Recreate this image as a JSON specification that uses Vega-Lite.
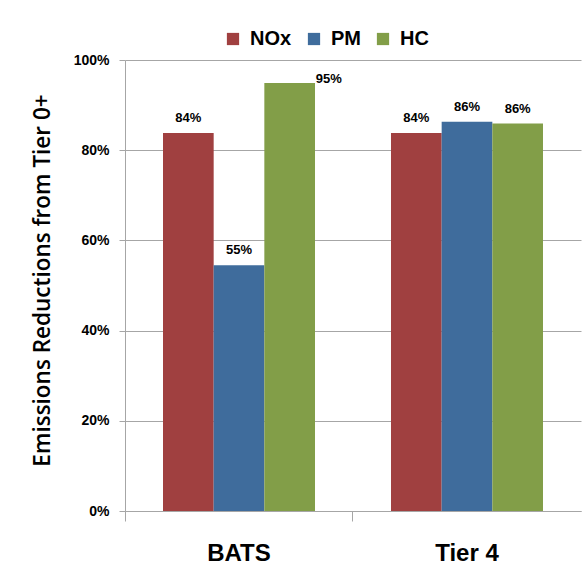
{
  "$schema": "https://vega.github.io/schema/vega-lite/v6.json",
  "autosize": "none",
  "width": 456,
  "height": 451,
  "padding": {"left": 125, "top": 60, "right": 1, "bottom": 57},
  "background": "white",
  "config": {
    "font": "Liberation Sans",
    "view": {"stroke": null}
  },
  "data": {
    "values": [
      {"group": "BATS", "pollutant": "NOx", "value": 0.838},
      {"group": "BATS", "pollutant": "PM", "value": 0.545},
      {"group": "BATS", "pollutant": "HC", "value": 0.949},
      {"group": "Tier 4", "pollutant": "NOx", "value": 0.838},
      {"group": "Tier 4", "pollutant": "PM", "value": 0.863},
      {"group": "Tier 4", "pollutant": "HC", "value": 0.859}
    ]
  },
  "encoding": {
    "x": {
      "field": "group",
      "type": "nominal",
      "sort": ["BATS", "Tier 4"],
      "scale": {"paddingInner": 0.3333, "paddingOuter": 0.1667},
      "axis": {
        "title": null,
        "labelAngle": 0,
        "labelFontSize": 24,
        "labelFontWeight": "bold",
        "labelColor": "#000000",
        "labelPadding": 20,
        "tickSize": 10,
        "tickColor": "#A6A6A6",
        "domainColor": "#A6A6A6",
        "bandPosition": -0.25,
        "ticks": true
      }
    },
    "xOffset": {
      "field": "pollutant",
      "type": "nominal",
      "sort": ["NOx", "PM", "HC"],
      "scale": {"paddingInner": 0, "paddingOuter": 0}
    },
    "y": {
      "field": "value",
      "type": "quantitative",
      "scale": {"domain": [0, 1], "nice": false},
      "axis": {
        "title": "Emissions Reductions  from Tier 0+",
        "titleFontSize": 22.5,
        "titleFontWeight": 600,
        "titleFont": "Open Sans",
        "titleColor": "#000000",
        "titleX": -83,
        "titleY": 220,
        "titleAlign": "center",
        "titleBaseline": "middle",
        "format": ".0%",
        "values": [0, 0.2, 0.4, 0.6, 0.8, 1.0],
        "labelFontSize": 14,
        "labelFontWeight": "bold",
        "labelColor": "#000000",
        "labelPadding": 10,
        "tickSize": 6,
        "tickColor": "#A6A6A6",
        "domainColor": "#A6A6A6",
        "gridColor": "#A6A6A6",
        "gridWidth": 1,
        "grid": true
      }
    }
  },
  "layer": [
    {
      "mark": {"type": "bar"},
      "encoding": {
        "color": {
          "field": "pollutant",
          "type": "nominal",
          "sort": ["NOx", "PM", "HC"],
          "scale": {"domain": ["NOx", "PM", "HC"], "range": ["#A04040", "#3F6C9C", "#829E48"]},
          "legend": {
            "title": null,
            "orient": "none",
            "direction": "horizontal",
            "legendX": 98,
            "legendY": -31,
            "symbolType": "square",
            "symbolSize": 150,
            "symbolStrokeWidth": 0,
            "labelFontSize": 20,
            "labelFontWeight": "bold",
            "labelColor": "#000000",
            "columnPadding": 12,
            "labelOffset": 7
          }
        }
      }
    },
    {
      "transform": [{"filter": "!(datum.group == 'BATS' && datum.pollutant == 'HC')"}],
      "mark": {"type": "text", "baseline": "bottom", "dy": -8, "fontSize": 13, "fontWeight": "bold", "color": "#000000"},
      "encoding": {
        "text": {"field": "value", "type": "quantitative", "format": ".0%"}
      }
    },
    {
      "transform": [{"filter": "datum.group == 'BATS' && datum.pollutant == 'HC'"}],
      "mark": {"type": "text", "baseline": "middle", "align": "left", "dx": 26, "dy": -4, "fontSize": 13, "fontWeight": "bold", "color": "#000000"},
      "encoding": {
        "text": {"field": "value", "type": "quantitative", "format": ".0%"}
      }
    }
  ]
}
